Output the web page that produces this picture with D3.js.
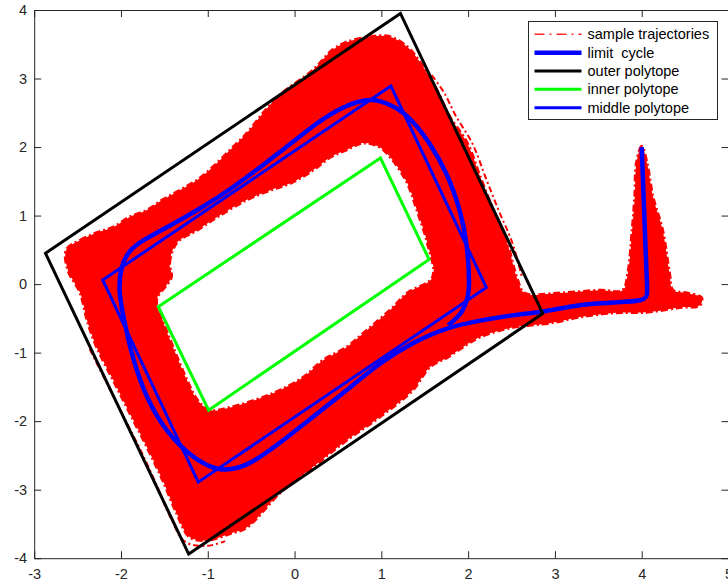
<!DOCTYPE html>
<meta charset="utf-8">
<html lang="en"></html>

<!-- load d3.js -->
<script src="https://d3js.org/d3.v7.min.js"></script>

<style>
    body { margin: 0; background: #fff; }
    text { font-family: "Liberation Sans", Arial, Helvetica, sans-serif; }
</style>

<div id="chart"></div>

<script>

    // axis ticks
    const xTicks = [-3, -2, -1, 0, 1, 2, 3, 4, 5];
    const yTicks = [-4, -3, -2, -1, 0, 1, 2, 3, 4];

    // legend labels
    const seriesNames = ["sample trajectories", "limit  cycle", "outer polytope", "inner polytope", "middle polytope"];

    // polytope vertices (x, y)
    const outerPolytope = [[-2.87, 0.45], [1.22, 3.95], [2.86, -0.43], [-1.22, -3.94]];
    const middlePolytope = [[-2.21, 0.06], [1.11, 2.89], [2.21, -0.05], [-1.11, -2.89]];
    const innerPolytope = [[-1.57, -0.33], [0.99, 1.84], [1.55, 0.36], [-0.99, -1.84]];

    // limit cycle trajectory, from the spike down into the loop
    const limitCycle = [
        [4.00, 2.00], [4.03, 1.00], [4.06, 0.00], [4.07, -0.17], [4.02, -0.24], [3.80, -0.26],
        [3.29, -0.29], [2.87, -0.41], [2.52, -0.45], [2.14, -0.53], [1.76, -0.63], [1.36, -0.85],
        [0.98, -1.15], [0.60, -1.55], [0.21, -1.94], [-0.17, -2.32], [-0.55, -2.67], [-0.82, -2.72],
        [-0.97, -2.68], [-1.24, -2.47], [-1.52, -2.09], [-1.75, -1.55], [-1.90, -0.92], [-1.98, -0.42],
        [-2.03, -0.09], [-2.00, 0.28], [-1.90, 0.50], [-1.75, 0.64], [-1.44, 0.85], [-1.06, 1.12],
        [-0.72, 1.40], [-0.36, 1.74], [-0.04, 2.05], [0.24, 2.34], [0.55, 2.59], [0.83, 2.70],
        [0.98, 2.68], [1.18, 2.58], [1.36, 2.39], [1.56, 2.06], [1.76, 1.62], [1.91, 1.08],
        [1.99, 0.60], [2.02, -0.04], [1.99, -0.23], [1.93, -0.42], [1.82, -0.55], [1.77, -0.60]
    ];

    // envelope of the sample trajectories: outer boundary and the hole inside the loop
    const sampleOuter = [
        [-2.63, 0.50], [-2.47, 0.64], [-2.28, 0.75], [-2.09, 0.83], [-1.90, 0.98], [-1.70, 1.08],
        [-1.52, 1.23], [-1.32, 1.37], [-1.12, 1.52], [-0.94, 1.71], [-0.74, 1.96], [-0.55, 2.20],
        [-0.36, 2.50], [-0.17, 2.76], [0.21, 3.12], [0.44, 3.42], [0.60, 3.53], [0.87, 3.61],
        [1.10, 3.61], [1.30, 3.46], [1.45, 3.23], [1.64, 2.83], [1.79, 2.44], [1.99, 2.06],
        [2.14, 1.56], [2.29, 1.08], [2.45, 0.60], [2.56, 0.10], [2.65, -0.13], [3.06, -0.13],
        [3.52, -0.09], [3.78, -0.09], [3.84, 0.16], [3.89, 0.79], [3.92, 1.27], [3.94, 1.77],
        [4.00, 2.01], [4.06, 1.77], [4.13, 1.27], [4.24, 0.79], [4.32, 0.16], [4.36, -0.09],
        [4.52, -0.13], [4.69, -0.20], [4.67, -0.31], [4.44, -0.34], [4.06, -0.41], [3.67, -0.42],
        [3.29, -0.48], [2.94, -0.57], [2.71, -0.60], [2.52, -0.63], [2.14, -0.77], [1.94, -0.92],
        [1.76, -1.07], [1.56, -1.21], [1.36, -1.55], [0.98, -1.94], [0.60, -2.28], [0.21, -2.67],
        [-0.17, -3.05], [-0.55, -3.55], [-0.74, -3.64], [-1.01, -3.74], [-1.21, -3.69], [-1.36, -3.34],
        [-1.52, -2.86], [-1.70, -2.38], [-1.90, -1.88], [-2.09, -1.40], [-2.28, -0.92], [-2.39, -0.53],
        [-2.47, -0.13], [-2.61, 0.20]
    ];
    const sampleHole = [
        [-1.42, 0.10], [-1.44, 0.31], [-1.36, 0.60], [-1.12, 0.79], [-0.89, 0.98], [-0.55, 1.23],
        [-0.28, 1.37], [-0.05, 1.47], [0.21, 1.66], [0.41, 1.85], [0.60, 1.96], [0.79, 2.06],
        [0.98, 2.00], [1.13, 1.81], [1.30, 1.47], [1.41, 1.08], [1.53, 0.60], [1.59, 0.10],
        [1.30, -0.13], [1.10, -0.38], [0.79, -0.72], [0.60, -0.92], [0.33, -1.11], [0.10, -1.36],
        [-0.17, -1.55], [-0.36, -1.65], [-0.74, -1.80], [-0.97, -1.84], [-1.12, -1.69], [-1.24, -1.40],
        [-1.40, -0.92], [-1.52, -0.53], [-1.59, -0.23]
    ];

    // a few stray sample trajectories hugging the band
    const strayRight = [[1.58, 3.05], [1.72, 2.80], [1.86, 2.45], [2.05, 2.05], [2.20, 1.56], [2.35, 1.08], [2.51, 0.60], [2.62, 0.10]];
    const strayBottom = [[-2.36, -0.95], [-2.17, -1.43], [-1.98, -1.91], [-1.78, -2.41], [-1.60, -2.90], [-1.44, -3.38], [-1.26, -3.76], [-1.01, -3.82], [-0.80, -3.75]];

    // plot box in pixels
    const width = 728, height = 587;
    const box = {left: 34.2, right: 728.5, top: 10, bottom: 558.2};

    const svg = d3.select("#chart")
        .append("svg")
            .attr("width", width)
            .attr("height", height);

    const x = d3.scaleLinear().domain([-3, 5]).range([box.left, box.right]);
    const y = d3.scaleLinear().domain([-4, 4]).range([box.bottom, box.top]);

    const line = d3.line().x(d => x(d[0])).y(d => y(d[1]));
    const smooth = d3.line().x(d => x(d[0])).y(d => y(d[1])).curve(d3.curveBasis);
    const rough = d3.line().x(d => x(d[0])).y(d => y(d[1])).curve(d3.curveCatmullRom.alpha(0.5));
    const smoothClosed = d3.line().x(d => x(d[0])).y(d => y(d[1])).curve(d3.curveCatmullRomClosed.alpha(0.5));

    const plot = svg.append("g");

    // sample trajectories band
    [strayRight, strayBottom].forEach(function(s) {
        plot.append("path")
            .attr("d", rough(s))
            .attr("fill", "none")
            .attr("stroke", "#ff0000")
            .attr("stroke-width", 2)
            .attr("stroke-dasharray", "6,3,2,3");
    });
    plot.append("path")
        .attr("d", smoothClosed(sampleOuter) + smoothClosed(sampleHole))
        .attr("fill", "#ff0000")
        .attr("fill-rule", "evenodd")
        .attr("stroke", "#ff0000")
        .attr("stroke-width", 3)
        .attr("stroke-dasharray", "7,3,2,3");

    // limit cycle
    plot.append("path")
        .attr("d", smooth(limitCycle))
        .attr("fill", "none")
        .attr("stroke", "#0000ff")
        .attr("stroke-width", 4.5)
        .attr("stroke-linejoin", "round");

    // polytopes
    const polys = [
        {pts: outerPolytope, color: "#000000"},
        {pts: innerPolytope, color: "#00ff00"},
        {pts: middlePolytope, color: "#0000ff"}
    ];
    polys.forEach(function(p) {
        plot.append("path")
            .attr("d", line(p.pts) + "Z")
            .attr("fill", "none")
            .attr("stroke", p.color)
            .attr("stroke-width", 3);
    });

    // axes, MATLAB style box with inward ticks
    const axisColor = "#262626";
    const fmt = function(d) { return String(d); };
    function styleAxis(g) {
        g.attr("color", axisColor);
        g.select(".domain").attr("stroke-width", 1);
        g.selectAll(".tick line").attr("stroke-width", 1);
        g.selectAll("text").attr("font-size", "14.5px").attr("font-family", "Liberation Sans, Arial, sans-serif");
    }
    svg.append("g")
        .attr("transform", "translate(0," + box.bottom + ")")
        .call(d3.axisBottom(x).tickValues(xTicks).tickFormat(fmt).tickSizeInner(-7).tickSizeOuter(0).tickPadding(10.5))
        .call(styleAxis);
    svg.append("g")
        .attr("transform", "translate(" + box.left + ",0)")
        .call(d3.axisLeft(y).tickValues(yTicks).tickFormat(fmt).tickSizeInner(-7).tickSizeOuter(0).tickPadding(7))
        .call(styleAxis);
    svg.append("g")
        .attr("transform", "translate(0," + box.top + ")")
        .call(d3.axisTop(x).tickValues(xTicks).tickSizeInner(-7).tickSizeOuter(0).tickFormat(""))
        .call(styleAxis);
    svg.append("g")
        .attr("transform", "translate(" + box.right + ",0)")
        .call(d3.axisRight(y).tickValues(yTicks).tickSizeInner(-7).tickSizeOuter(0).tickFormat(""))
        .call(styleAxis);

    // legend
    const legendStyles = [
        {color: "#ff2a2a", width: 1.5, dash: "10,5,2,5"},
        {color: "#0000ff", width: 4.5, dash: null},
        {color: "#000000", width: 3, dash: null},
        {color: "#00ff00", width: 3, dash: null},
        {color: "#0000ff", width: 3, dash: null}
    ];
    const legend = svg.append("g").attr("transform", "translate(528.5,21.5)");
    legend.append("rect")
        .attr("width", 189)
        .attr("height", 98)
        .attr("fill", "#fff")
        .attr("stroke", axisColor)
        .attr("stroke-width", 1);
    const rows = legend.selectAll(".row")
        .data(seriesNames)
        .enter()
        .append("g")
            .attr("transform", function(d, i) { return "translate(0," + (12.8 + i * 18.35) + ")"; });
    rows.append("line")
        .attr("x1", 6).attr("x2", 53)
        .attr("stroke", function(d, i) { return legendStyles[i].color; })
        .attr("stroke-width", function(d, i) { return legendStyles[i].width; })
        .attr("stroke-dasharray", function(d, i) { return legendStyles[i].dash; });
    rows.append("text")
        .attr("x", 59)
        .attr("dy", "0.35em")
        .attr("font-size", "14.5px")
        .attr("fill", "#000")
        .style("white-space", "pre")
        .text(function(d) { return d; });

</script>
